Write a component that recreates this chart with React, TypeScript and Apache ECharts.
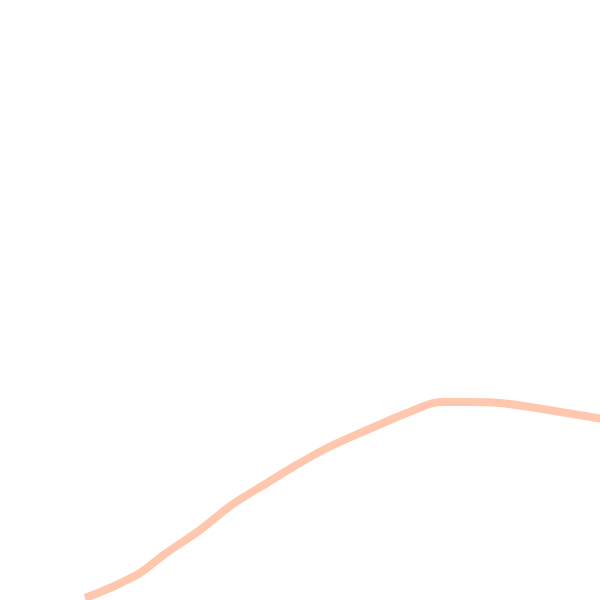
import React, { useEffect, useRef } from "react";
import * as echarts from "echarts";

const xValues = [85, 110, 140, 165, 200, 233, 267, 293, 327, 367, 407, 440, 470, 500, 530, 567, 597, 615];
const yValues = [2, 12, 27, 46, 70, 96, 117, 133, 152, 170, 187, 198, 198, 197, 193, 187, 182, 180];

export default function App() {
  const ref = useRef<HTMLDivElement>(null);
  useEffect(() => {
    const chart = echarts.init(ref.current!, null, { renderer: "svg" });
    chart.setOption({
      animation: false,
      backgroundColor: "#ffffff",
      grid: { left: 0, right: 0, top: 0, bottom: 0 },
      xAxis: { type: "value", min: 0, max: 600, show: false },
      yAxis: { type: "value", min: 0, max: 600, show: false },
      series: [
        {
          type: "line",
          data: xValues.map((x, i) => [x, yValues[i]]),
          smooth: 0.3,
          symbol: "none",
          clip: true,
          lineStyle: { color: "#ffc7ad", width: 8 },
        },
      ],
    });
    return () => chart.dispose();
  }, []);
  return (
    <div
      ref={ref}
      style={{ position: "absolute", left: 0, top: 0, width: 600, height: 600 }}
    />
  );
}
